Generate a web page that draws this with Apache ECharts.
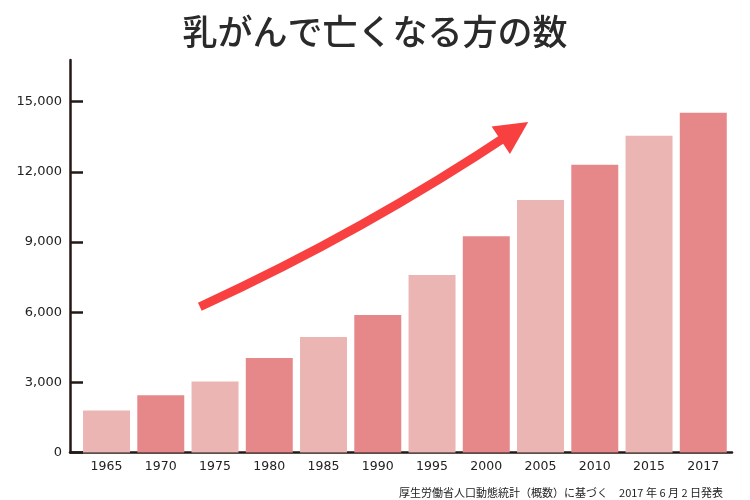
<!DOCTYPE html>
<html>
<head>
<meta charset="utf-8">
<script src="https://cdn.jsdelivr.net/npm/echarts@6/dist/echarts.min.js"></script>
<style>html,body{margin:0;padding:0;background:#fff}#c{width:750px;height:500px}</style>
</head>
<body>
<div id="c"></div>
<script>
const titleText = '乳がんで亡くなる方の数';
const sourceText = '厚生労働省人口動態統計（概数）に基づく　2017 年 6 月 2 日発表';
const years = ['1965','1970','1975','1980','1985','1990','1995','2000','2005','2010','2015','2017'];
const deaths = [1800, 2450, 3040, 4040, 4940, 5880, 7590, 9250, 10800, 12300, 13540, 14520];
const yTicks = [0, 3000, 6000, 9000, 12000, 15000];
const yMax = 16780;
// trend arrow: [category index, value]
const arrowStart = [1.72, 6230];
const arrowEnd = [7.52, 13740];

const lightColor = '#EBB5B4';
const darkColor = '#E6888A';
const axisColor = '#231815';
const textColor = '#222222';

const chart = echarts.init(document.getElementById('c'));
chart.setOption({
  animation: false,
  backgroundColor: '#ffffff',
  title: {
    text: titleText,
    left: 'center',
    top: 9,
    textStyle: { fontFamily: 'Noto Sans CJK JP', fontWeight: 500, fontSize: 35, color: '#2a2a2a' }
  },
  graphic: [{
    type: 'text',
    right: 27,
    bottom: 2,
    style: { text: sourceText, fontFamily: 'Noto Sans CJK JP', fontSize: 11, fill: textColor }
  }],
  grid: [
    { left: 79.4, right: 19.6, top: 60, bottom: 47.5 },
    { left: 70, right: 18, top: 60, bottom: 47.5 }
  ],
  xAxis: [
    {
      type: 'category', gridIndex: 0, data: years,
      axisLine: { show: false }, axisTick: { show: false },
      axisLabel: { color: textColor, fontFamily: 'DejaVu Sans', fontSize: 12.5, margin: 8 }
    },
    {
      type: 'value', gridIndex: 0, min: -0.5, max: 11.5, show: false
    },
    {
      type: 'value', gridIndex: 1, min: 0, max: 1,
      axisLine: { show: true, lineStyle: { color: axisColor, width: 2.5 } },
      axisTick: { show: false }, axisLabel: { show: false }, splitLine: { show: false }
    }
  ],
  yAxis: [
    { type: 'value', gridIndex: 0, min: 0, max: yMax, show: false },
    {
      type: 'value', gridIndex: 1, min: 0, max: yMax,
      axisLine: { show: true, lineStyle: { color: axisColor, width: 2.5 } },
      axisTick: { show: true, inside: true, length: 13, customValues: yTicks, lineStyle: { color: axisColor, width: 2.5 } },
      axisLabel: {
        customValues: yTicks, margin: 8, color: textColor, fontFamily: 'DejaVu Sans', fontSize: 13,
        formatter: v => v.toLocaleString('en-US')
      },
      splitLine: { show: false }
    }
  ],
  series: [
    {
      type: 'bar', xAxisIndex: 0, yAxisIndex: 0,
      data: deaths.map((v, i) => ({ value: v, itemStyle: { color: i % 2 === 0 ? lightColor : darkColor } })),
      barCategoryGap: '13.4%'
    },
    {
      type: 'lines', coordinateSystem: 'cartesian2d', xAxisIndex: 1, yAxisIndex: 0,
      symbol: ['none', 'triangle'], symbolSize: [31, 33],
      lineStyle: { color: '#F94040', width: 9, opacity: 1, curveness: -0.04, cap: 'butt' },
      itemStyle: { color: '#F94040' },
      data: [{ coords: [arrowStart, arrowEnd] }],
      z: 5
    }
  ]
});
</script>
</body>
</html>
